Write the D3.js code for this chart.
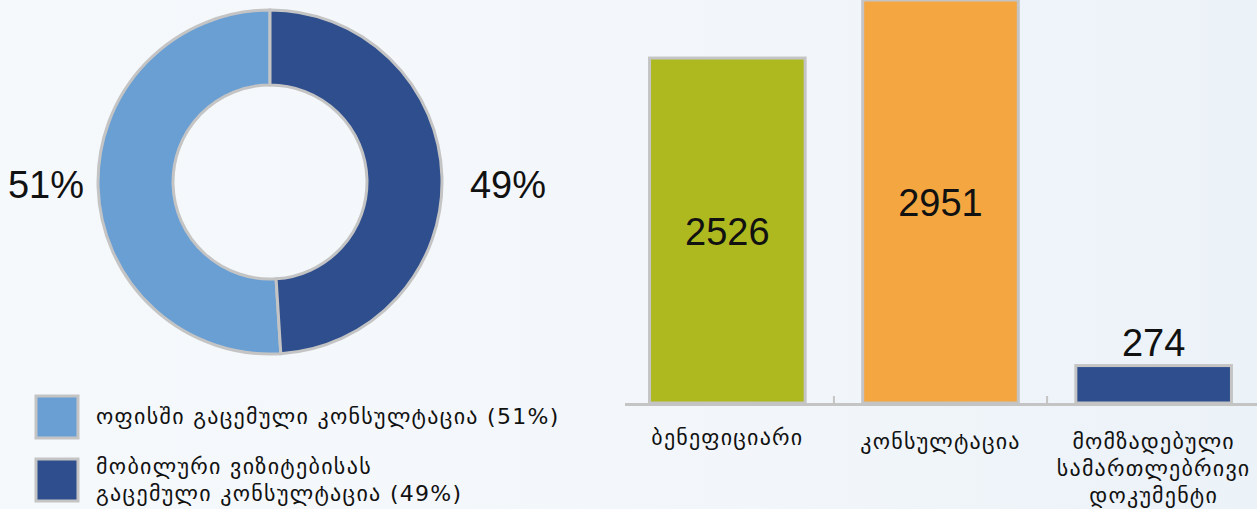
<!DOCTYPE html>
<html>
<head>
<meta charset="utf-8">
<script src="https://cdn.jsdelivr.net/npm/d3@7"></script>
<style>
  html, body { margin: 0; padding: 0; }
  body { width: 1257px; height: 509px; overflow: hidden; background: #f4f7fb; }
  #chart { width: 1257px; height: 509px; }
</style>
</head>
<body>
<div id="chart"></div>
<script>
// donut data
var shareLegendLines = [["ოფისში გაცემული კონსულტაცია (51%)"], ["მობილური ვიზიტებისას", "გაცემული კონსულტაცია (49%)"]];
var shareValues = [51, 49];
var shareColors = ["#6a9fd4", "#2e4e8d"];

// bar data
var barCategories = [["ბენეფიციარი"], ["კონსულტაცია"], ["მომზადებული", "სამართლებრივი", "დოკუმენტი"]];
var barValues = [2526, 2951, 274];
var barColors = ["#aeb91f", "#f4a741", "#2e4e8d"];

var W = 1257, H = 509;
var svg = d3.select("#chart").append("svg")
    .attr("width", W)
    .attr("height", H);

// faint background
var defs = svg.append("defs");
var grad = defs.append("linearGradient").attr("id", "bg").attr("x1", 0).attr("y1", 0).attr("x2", 1).attr("y2", 0);
grad.append("stop").attr("offset", "0%").attr("stop-color", "#f6f9fc");
grad.append("stop").attr("offset", "60%").attr("stop-color", "#f2f6fa");
grad.append("stop").attr("offset", "100%").attr("stop-color", "#ebf2f8");
svg.append("rect").attr("width", W).attr("height", H).attr("fill", "url(#bg)");

// ---- donut ----
var cx = 270, cy = 182;
var pie = d3.pie().sort(null)
    .startAngle(-Math.PI * 2 * 0.51)
    .endAngle(Math.PI * 2 * 0.49);
var arc = d3.arc().innerRadius(97).outerRadius(172);
var donut = svg.append("g").attr("transform", "translate(" + cx + "," + cy + ")");
donut.selectAll("path")
    .data(pie(shareValues))
    .enter().append("path")
    .attr("d", arc)
    .attr("fill", function(d, i) { return shareColors[i]; })
    .attr("stroke", "#c4c4c4")
    .attr("stroke-width", 3);

var pctFont = "Liberation Sans, Arial, sans-serif";
svg.append("text")
    .attr("x", 46).attr("y", 198)
    .attr("text-anchor", "middle")
    .style("font-family", pctFont).style("font-size", "38px")
    .attr("fill", "#111")
    .text(shareValues[0] + "%");
svg.append("text")
    .attr("x", 508).attr("y", 198)
    .attr("text-anchor", "middle")
    .style("font-family", pctFont).style("font-size", "38px")
    .attr("fill", "#111")
    .text(shareValues[1] + "%");

// legend
var geoFont = "DejaVu Sans, sans-serif";
var legend = svg.selectAll(".legend")
    .data(shareLegendLines)
    .enter().append("g")
    .attr("class", "legend")
    .attr("transform", function(d, i) { return "translate(36," + (396 + i * 63) + ")"; });
legend.append("rect")
    .attr("width", 42).attr("height", 42)
    .attr("fill", function(d, i) { return shareColors[i]; })
    .attr("stroke", "#c4c4c4")
    .attr("stroke-width", 3);
legend.each(function(lines, i) {
  var t = d3.select(this).append("text")
      .style("font-family", geoFont)
      .style("font-size", "22px")
      .style("letter-spacing", "1.3px")
      .attr("fill", "#111");
  lines.forEach(function(line, k) {
    t.append("tspan")
      .attr("x", 60)
      .attr("y", (lines.length === 1 ? 28 : 15) + k * 27)
      .text(line);
  });
});

// ---- bars ----
var baseY = 403;
var x = d3.scaleBand()
    .domain(d3.range(barValues.length))
    .range([592, 1289])
    .padding(0.27);
var y = d3.scaleLinear()
    .domain([0, 2951])
    .range([baseY, 0]);

var bars = svg.append("g");
bars.selectAll("rect")
    .data(barValues)
    .enter().append("rect")
    .attr("x", function(d, i) { return x(i); })
    .attr("y", function(d) { return y(d); })
    .attr("width", x.bandwidth())
    .attr("height", function(d) { return baseY - y(d); })
    .attr("fill", function(d, i) { return barColors[i]; })
    .attr("stroke", "#c4c4c4")
    .attr("stroke-width", 3);

// axis line and separators
svg.append("line")
    .attr("x1", 625).attr("x2", W)
    .attr("y1", baseY + 1.5).attr("y2", baseY + 1.5)
    .attr("stroke", "#c4c4c4").attr("stroke-width", 3);
svg.selectAll(".sep")
    .data([1, 2])
    .enter().append("line")
    .attr("class", "sep")
    .attr("x1", function(d) { return x(d) - (x.step() - x.bandwidth()) / 2; })
    .attr("x2", function(d) { return x(d) - (x.step() - x.bandwidth()) / 2; })
    .attr("y1", baseY).attr("y2", baseY - 7)
    .attr("stroke", "#c4c4c4").attr("stroke-width", 2);

// value labels
svg.selectAll(".val")
    .data(barValues)
    .enter().append("text")
    .attr("class", "val")
    .attr("x", function(d, i) { return x(i) + x.bandwidth() / 2; })
    .attr("y", function(d) {
      var top = y(d), h = baseY - top;
      return h > 80 ? top + h / 2 + 14 : top - 10;
    })
    .attr("text-anchor", "middle")
    .style("font-family", pctFont).style("font-size", "38px")
    .attr("fill", "#111")
    .text(function(d) { return d; });

// category labels
svg.selectAll(".cat")
    .data(barCategories)
    .enter().append("text")
    .attr("class", "cat")
    .attr("text-anchor", "middle")
    .style("font-family", geoFont).style("font-size", "22px")
    .style("letter-spacing", "1.2px")
    .attr("fill", "#111")
    .each(function(lines, i) {
      var t = d3.select(this);
      lines.forEach(function(line, k) {
        t.append("tspan")
          .attr("x", x(i) + x.bandwidth() / 2)
          .attr("y", (i === 0 ? 445 : 449) + k * 27)
          .text(line);
      });
    });
</script>
</body>
</html>
